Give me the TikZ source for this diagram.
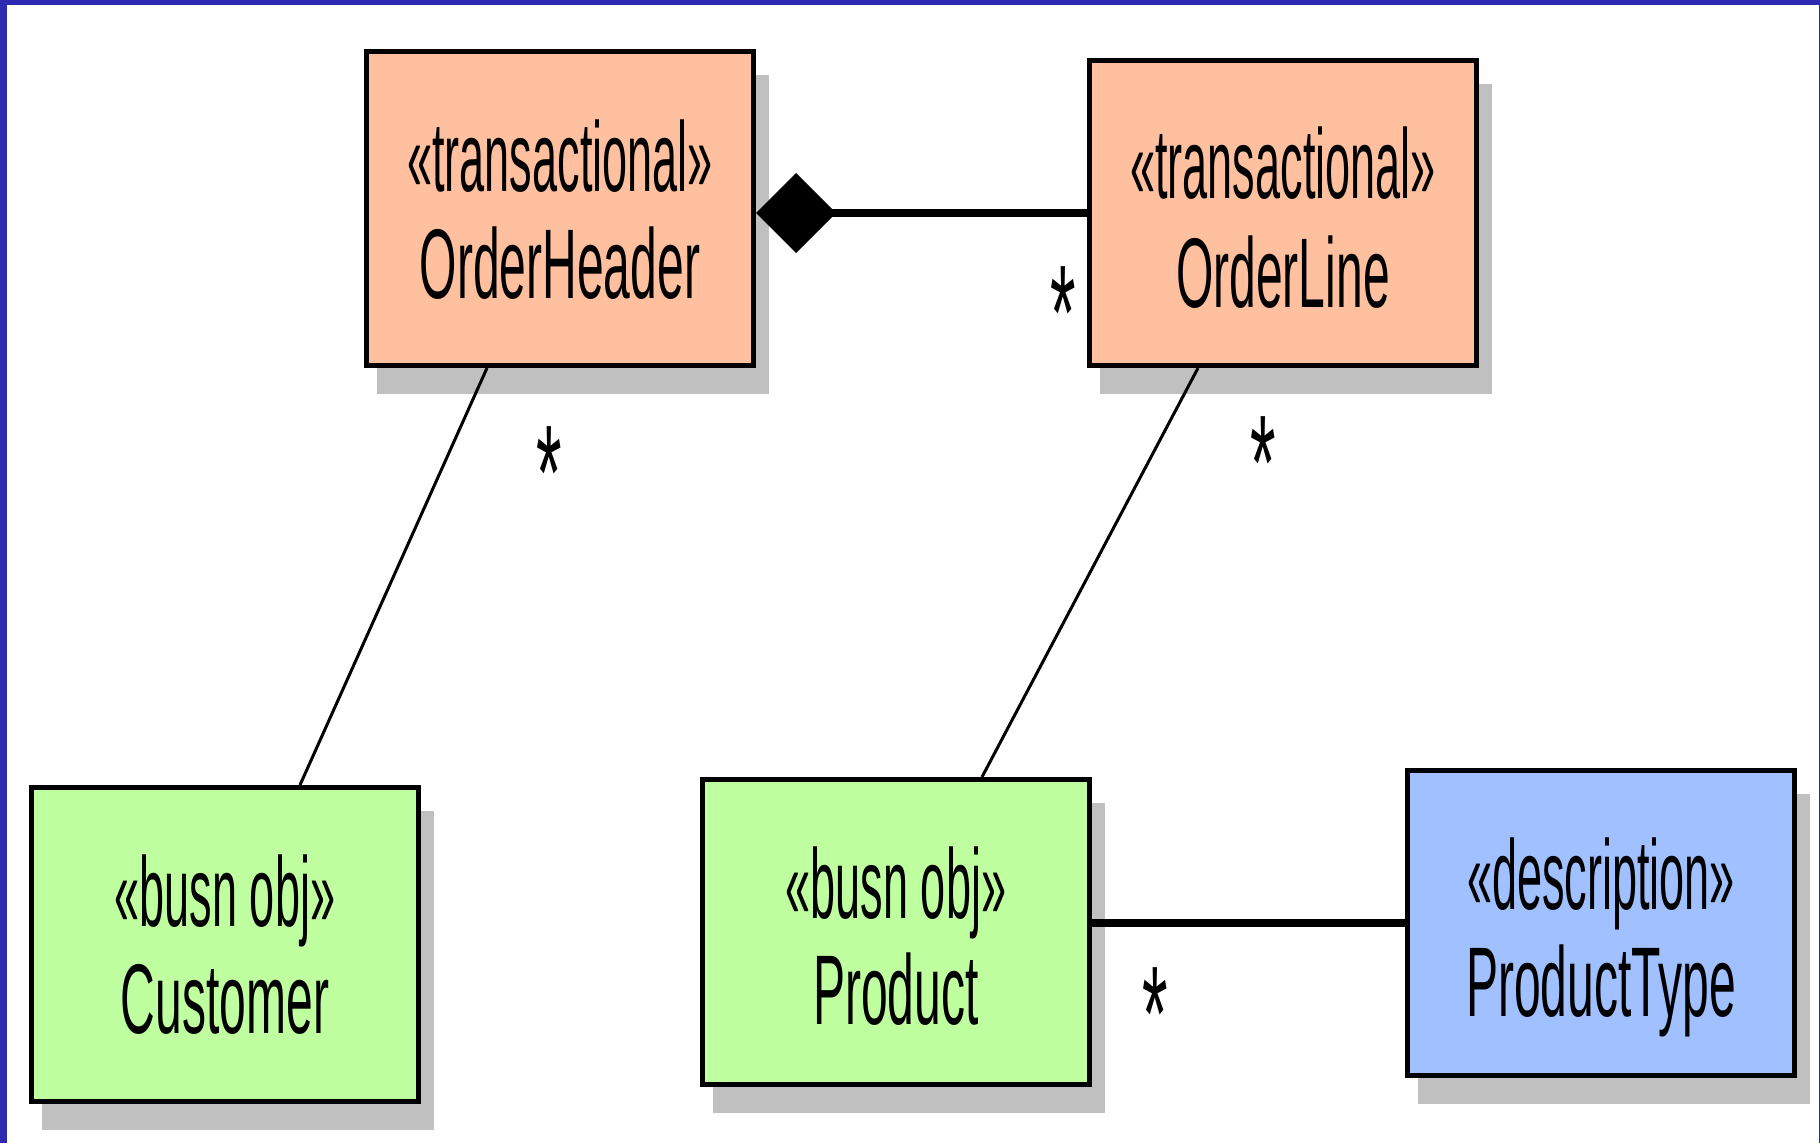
\documentclass[tikz,border=0pt]{standalone}
\usepackage{fontspec}
\setmainfont{Liberation Sans}
\newfontfamily\stereofont[FakeStretch=0.455]{Liberation Sans}
\newfontfamily\namefont[FakeStretch=0.485]{Liberation Sans}
\usetikzlibrary{arrows.meta,calc,shadows}

\definecolor{framec}{RGB}{44,42,178}
\definecolor{txnfill}{RGB}{255,192,160}
\definecolor{busfill}{RGB}{192,255,160}
\definecolor{descfill}{RGB}{160,192,255}
\definecolor{shadowc}{RGB}{192,192,192}

\tikzset{
  classbox/.style={draw=black, line width=5pt, inner sep=0pt,
    minimum width=387pt, minimum height=#1,
    general shadow={fill=shadowc, draw=shadowc, line width=5pt,
      shadow xshift=13pt, shadow yshift=-26pt}},
  stereo/.style={anchor=base, inner sep=0pt, font=\stereofont\fontsize{99}{110}\selectfont},
  cname/.style={anchor=base, inner sep=0pt, font=\namefont\fontsize{99}{110}\selectfont},
  mult/.style={anchor=base, inner sep=0pt, font=\namefont\fontsize{135}{135}\selectfont},
  assoc/.style={line width=3pt},
  link/.style={line width=8pt},
}

\begin{document}
\begin{tikzpicture}[x=1pt, y=-1pt]
\useasboundingbox (0,0) rectangle (1820,1143);
\fill[white] (0,0) rectangle (1820,1143);

% slide frame
\fill[framec] (0,0) rectangle (7,1143);
\fill[framec] (0,0) rectangle (1820,5);
\fill[framec] (1819,0) rectangle (1820,1143);

% classes
\node[classbox=314pt, fill=txnfill]  (oh) at (560,208.5) {};
\node[classbox=305pt, fill=txnfill]  (ol) at (1283,213) {};
\node[classbox=314pt, fill=busfill]  (cu) at (225,944.5) {};
\node[classbox=305pt, fill=busfill]  (pr) at (896,932) {};
\node[classbox=305pt, fill=descfill] (pt) at (1601,923) {};

% class labels
\node[stereo] (ohs) at ($(oh.center)+(0,-17.5)$) {«transactional»};
\node[cname]  (ohn) at ($(oh.center)+(0,89.5)$)  {OrderHeader};
\node[stereo] (ols) at ($(ol.center)+(0,-15)$)   {«transactional»};
\node[cname]  (oln) at ($(ol.center)+(0,94)$)    {OrderLine};
\node[stereo] (cus) at ($(cu.center)+(0,-18.5)$) {«busn obj»};
\node[cname]  (cun) at ($(cu.center)+(0,88.5)$)  {Customer};
\node[stereo] (prs) at ($(pr.center)+(0,-14)$)   {«busn obj»};
\node[cname]  (prn) at ($(pr.center)+(0,92)$)    {Product};
\node[stereo] (pts) at ($(pt.center)+(0,-14)$)   {«description»};
\node[cname]  (ptn) at ($(pt.center)+(0,93)$)    {ProductType};

% composition OrderHeader <>-- OrderLine
\draw[link, {Diamond[length=80pt, width=80pt, line width=0pt]}-]
  (oh.east |- ol.west) -- (ol.west);
% association Product -- ProductType
\draw[link] (pr.east |- pt.west) -- (pt.west);
% associations to the business objects
\draw[assoc] ([xshift=123pt]oh.south west) -- ([xshift=271pt]cu.north west);
\draw[assoc] ([xshift=111pt]ol.south west) -- ([xshift=282pt]pr.north west);

% multiplicities
\node[mult] (m1) at (549,519)  {*};
\node[mult] (m2) at (1063,359) {*};
\node[mult] (m3) at (1263,509) {*};
\node[mult] (m4) at (1155,1060) {*};
\end{tikzpicture}
\end{document}
